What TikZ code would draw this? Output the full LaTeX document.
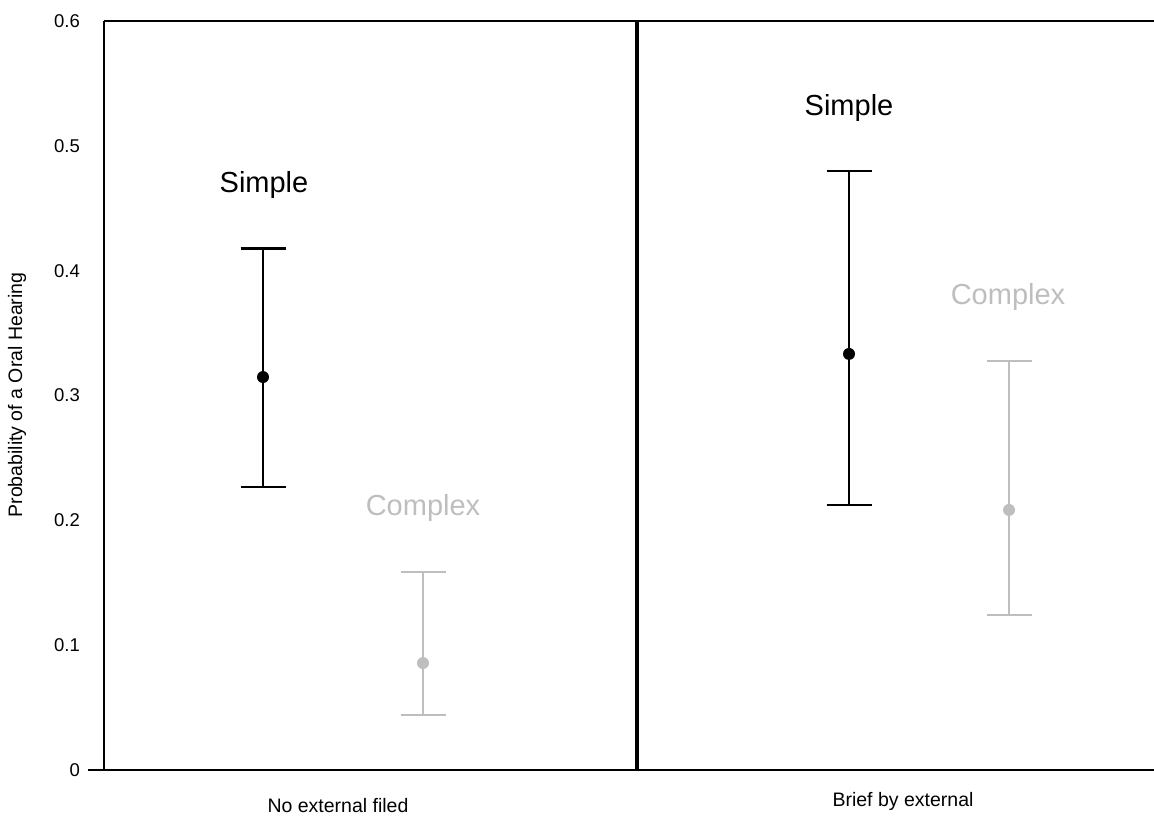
\documentclass[tikz,border=0pt]{standalone}
\usepackage{fontspec}
\setmainfont{Liberation Sans}
\usetikzlibrary{positioning}
\definecolor{lightgrey}{gray}{0.745}

\begin{document}
\begin{tikzpicture}[x=1pt,y=1pt]
       \tikzstyle{axis} = [line width=1.6pt, black]
       \tikzstyle{divider} = [line width=4pt, black]
       \tikzstyle{ticklabel} = [font=\fontsize{18.5}{20}\selectfont, anchor=east, inner sep=0pt]
       \tikzstyle{axislabel} = [font=\fontsize{19.5}{22}\selectfont, inner sep=0pt]
       \tikzstyle{grouplabel} = [font=\fontsize{29}{32}\selectfont, inner sep=0pt]
       \tikzstyle{bar} = [line width=2.8pt]
       \useasboundingbox (0,0) rectangle (1154,-816);
       \coordinate (top-left) at (104,-21);
       \coordinate (top-right) at (1154,-21);
       \coordinate (bottom-left) at (88,-770);
       \coordinate (bottom-right) at (1154,-770);
       \coordinate (origin) at (104,-770);
       \coordinate (divider-top) at (637,-21);
       \coordinate (divider-bottom) at (637,-770);
       \draw [axis] (top-left) -- (top-right);
       \draw [axis] (bottom-left) -- (bottom-right);
       \draw [axis] (top-left) -- (origin);
       \draw [divider] (divider-top) -- (divider-bottom);

        \foreach \v/\t in {0/0,0.1/0.1,0.2/0.2,0.3/0.3,0.4/0.4,0.5/0.5,0.6/0.6}
        {
          \coordinate (tick-\t) at (104,-770+1248.3*\v);
          \coordinate (tick-end-\t) at (88,-770+1248.3*\v);
          \draw [axis] (tick-\t) -- (tick-end-\t);
          \node (label-\t) [ticklabel] at (80,-770+1248.3*\v) {\t};
        }

        \foreach \name/\x/\lo/\mid/\hi/\col in {simple-A/263/0.2267/0.3148/0.4180/black,
            complex-A/423/0.0441/0.0857/0.1586/lightgrey,
            simple-B/849/0.2123/0.3333/0.4799/black,
            complex-B/1009/0.1242/0.2083/0.3277/lightgrey}
        {
          \coordinate (\name-lo) at (\x,-770+1248.3*\lo);
          \coordinate (\name-hi) at (\x,-770+1248.3*\hi);
          \draw [bar, \col] (\name-lo) -- (\name-hi);
          \draw [bar, \col] ([xshift=-22.5pt]\name-lo) -- ([xshift=22.5pt]\name-lo);
          \draw [bar, \col] ([xshift=-22.5pt]\name-hi) -- ([xshift=22.5pt]\name-hi);
          \node (\name-mean) [circle, fill=\col, inner sep=0pt, minimum size=12pt] at (\x,-770+1248.3*\mid) {};
        }

       \node (simple-A) [grouplabel] at (264,-185) {Simple};
       \node (complex-A) [grouplabel, text=lightgrey] at (423,-508) {Complex};
       \node (simple-B) [grouplabel] at (849,-108) {Simple};
       \node (complex-B) [grouplabel, text=lightgrey] at (1008,-297) {Complex};
       \node (group-A) [axislabel] at (338,-806) {No external filed};
       \node (group-B) [axislabel] at (903,-801) {Brief by external};
       \node (y-label) [axislabel, rotate=90] at (17,-395) {Probability of a Oral Hearing};

   \end{tikzpicture}
\end{document}
